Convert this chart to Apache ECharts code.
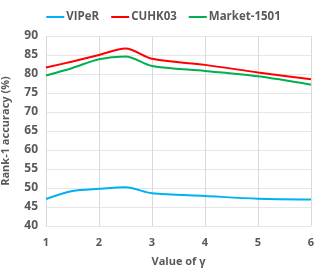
<!DOCTYPE html>
<html><head><meta charset="utf-8">
<script src="https://cdn.jsdelivr.net/npm/echarts@6/dist/echarts.min.js"></script>
<style>html,body{margin:0;padding:0;background:#fff}#c{width:327px;height:272px}</style>
</head><body><div id="c"></div>
<script>
const xValues = [1, 1.5, 2, 2.5, 3, 4, 5, 6];
const viper = [47.1, 49.2, 49.8, 50.2, 48.6, 47.9, 47.2, 47.0];
const cuhk03 = [81.7, 83.3, 85.0, 86.7, 84.0, 82.4, 80.4, 78.6];
const market = [79.6, 81.6, 83.9, 84.6, 82.1, 80.8, 79.4, 77.2];
const seriesNames = ['VIPeR', 'CUHK03', 'Market-1501'];
const colors = ['#00B0F0', '#FF0000', '#00B050'];
const pair = arr => arr.map((v, i) => [xValues[i], v]);
const font = 'Open Sans';
const txt = {color: '#595959', fontWeight: 'bold', fontFamily: font, fontSize: 11};
const chart = echarts.init(document.getElementById('c'));
chart.setOption({
  animation: false,
  legend: {
    top: 6, left: 'center', itemWidth: 18, itemHeight: 2, itemGap: 12,
    icon: 'rect',
    textStyle: {color: '#595959', fontWeight: 'bold', fontFamily: font, fontSize: 11.5, padding: [0, 0, 0, -3]},
    data: seriesNames
  },
  grid: {left: 46, right: 16, top: 36, bottom: 46, outerBoundsMode: 'none', containLabel: false},
  xAxis: {
    type: 'value', min: 1, max: 6, interval: 1,
    name: 'Value of γ', nameLocation: 'middle', nameGap: 30,
    nameTextStyle: txt,
    axisLine: {show: false}, axisTick: {show: false},
    axisLabel: Object.assign({margin: 11}, txt),
    splitLine: {show: true, lineStyle: {color: '#D9D9D9'}}
  },
  yAxis: {
    type: 'value', min: 40, max: 90, interval: 5,
    name: 'Rank-1 accuracy (%)', nameLocation: 'middle', nameGap: 35,
    nameTextStyle: txt,
    axisLine: {show: false}, axisTick: {show: false},
    axisLabel: Object.assign({margin: 8}, txt, {fontSize: 12}),
    splitLine: {show: true, lineStyle: {color: '#E6E6E6'}}
  },
  series: [viper, cuhk03, market].map((d, i) => ({
    name: seriesNames[i], type: 'line', data: pair(d), smooth: 0.3,
    showSymbol: false, symbol: 'none',
    lineStyle: {color: colors[i], width: 2}, itemStyle: {color: colors[i]}
  }))
});
</script></body></html>
